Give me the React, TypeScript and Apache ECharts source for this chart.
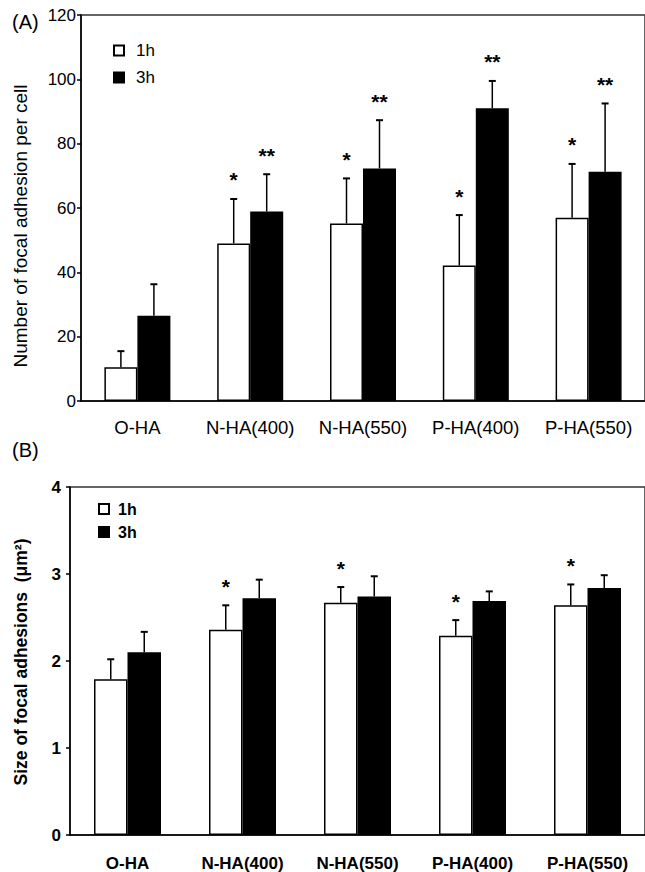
import React, { useEffect, useRef } from "react";
import * as echarts from "echarts";

const categories = ["O-HA", "N-HA(400)", "N-HA(550)", "P-HA(400)", "P-HA(550)"];

// (A) Number of focal adhesion per cell
const countMean1h = [10.5, 49.0, 55.2, 42.1, 57.0];
const countErr1h = [5.0, 13.8, 14.0, 15.7, 16.7];
const countStar1h = ["", "*", "*", "*", "*"];
const countMean3h = [26.5, 58.9, 72.3, 91.0, 71.3];
const countErr3h = [9.8, 11.6, 15.0, 8.5, 21.2];
const countStar3h = ["", "**", "**", "**", "**"];

// (B) Size of focal adhesions (µm²)
const sizeMean1h = [1.79, 2.36, 2.67, 2.29, 2.64];
const sizeErr1h = [0.23, 0.28, 0.18, 0.18, 0.24];
const sizeStar1h = ["", "*", "*", "*", "*"];
const sizeMean3h = [2.1, 2.72, 2.74, 2.69, 2.84];
const sizeErr3h = [0.235, 0.215, 0.234, 0.11, 0.146];
const sizeStar3h = ["", "", "", "", ""];

const countTicks = { min: 0, max: 120, interval: 20 };
const sizeTicks = { min: 0, max: 4, interval: 1 };

const FONT = "'Liberation Sans', Arial, Helvetica, sans-serif";

function errSeries(
  means: number[],
  errs: number[],
  stars: string[],
  side: number,
  barW: number,
  axisIdx: number
) {
  return {
    type: "custom",
    xAxisIndex: axisIdx,
    yAxisIndex: axisIdx,
    z: 5,
    silent: true,
    clip: false,
    data: means.map((m, i) => [i, m, errs[i]]),
    renderItem: (params: any, api: any) => {
      const i = api.value(0);
      const m = api.value(1);
      const e = api.value(2);
      const base = api.coord([i, m]);
      const top = api.coord([i, m + e]);
      const x = base[0] + (side * barW) / 2;
      const children: any[] = [
        {
          type: "line",
          shape: { x1: x, y1: base[1], x2: x, y2: top[1] },
          style: { stroke: "#000", lineWidth: 1.5 },
        },
        {
          type: "line",
          shape: { x1: x - 3.5, y1: top[1], x2: x + 3.5, y2: top[1] },
          style: { stroke: "#000", lineWidth: 2 },
        },
      ];
      const s = stars[params.dataIndex];
      if (s) {
        children.push({
          type: "text",
          x: x,
          y: top[1] - 19,
          style: {
            text: s,
            fill: "#000",
            fontSize: 21,
            fontWeight: "bold",
            fontFamily: FONT,
            align: "center",
            verticalAlign: "middle",
          },
        });
      }
      return { type: "group", children };
    },
  };
}

export default function App() {
  const ref = useRef<HTMLDivElement>(null);

  useEffect(() => {
    if (!ref.current) return;
    const chart = echarts.init(ref.current, undefined, { renderer: "svg" });
    const axisLineStyle = { color: "#000", width: 1.5 };
    const option: any = {
      animation: false,
      backgroundColor: "#fff",
      grid: [
        {
          left: 81,
          top: 15,
          right: -7,
          height: 386,
          show: true,
          borderColor: "#333",
          borderWidth: 1.5,
        },
        {
          left: 70,
          top: 487,
          right: -7,
          height: 348,
          show: true,
          borderColor: "#333",
          borderWidth: 1.5,
        },
      ],
      legend: [
        {
          orient: "vertical",
          left: 108,
          top: 37,
          itemWidth: 10,
          itemHeight: 10,
          itemGap: 10,
          icon: "rect",
          data: ["1h", "3h"],
          textStyle: {
            fontFamily: FONT,
            fontSize: 17,
            color: "#000",
            padding: [0, 0, 0, 7],
          },
        },
        {
          orient: "vertical",
          left: 93,
          top: 496,
          itemWidth: 10,
          itemHeight: 10,
          itemGap: 7,
          icon: "rect",
          data: ["1h", "3h"],
          textStyle: {
            fontFamily: FONT,
            fontSize: 16,
            fontWeight: "bold",
            color: "#000",
            padding: [0, 0, 0, 4],
          },
        },
      ],
      xAxis: [
        {
          type: "category",
          gridIndex: 0,
          data: categories,
          axisLine: { lineStyle: axisLineStyle },
          axisTick: { inside: true, length: 4, lineStyle: axisLineStyle },
          axisLabel: {
            interval: 0,
            margin: 17,
            fontSize: 18.5,
            fontFamily: FONT,
            color: "#000",
          },
        },
        {
          type: "category",
          gridIndex: 1,
          data: categories,
          axisLine: { lineStyle: axisLineStyle },
          axisTick: { inside: true, length: 4, lineStyle: axisLineStyle },
          axisLabel: {
            interval: 0,
            margin: 20,
            fontSize: 17,
            fontWeight: "bold",
            fontFamily: FONT,
            color: "#000",
          },
        },
      ],
      yAxis: [
        {
          type: "value",
          gridIndex: 0,
          ...countTicks,
          axisLine: { show: true, lineStyle: axisLineStyle },
          axisTick: { show: true, length: 4, lineStyle: axisLineStyle },
          splitLine: { show: false },
          axisLabel: {
            margin: 5,
            fontSize: 17,
            fontFamily: FONT,
            color: "#000",
          },
        },
        {
          type: "value",
          gridIndex: 1,
          ...sizeTicks,
          axisLine: { show: true, lineStyle: axisLineStyle },
          axisTick: { show: true, length: 4, lineStyle: axisLineStyle },
          splitLine: { show: false },
          axisLabel: {
            margin: 9,
            fontSize: 17,
            fontWeight: "bold",
            fontFamily: FONT,
            color: "#000",
          },
        },
      ],
      series: [
        {
          name: "1h",
          type: "bar",
          xAxisIndex: 0,
          yAxisIndex: 0,
          data: countMean1h,
          barWidth: 33,
          barGap: "0%",
          itemStyle: { color: "#fff", borderColor: "#000", borderWidth: 1.5 },
        },
        {
          name: "3h",
          type: "bar",
          xAxisIndex: 0,
          yAxisIndex: 0,
          data: countMean3h,
          barWidth: 33,
          barGap: "0%",
          itemStyle: { color: "#000", borderColor: "#000", borderWidth: 1.5 },
        },
        {
          name: "1h",
          type: "bar",
          xAxisIndex: 1,
          yAxisIndex: 1,
          data: sizeMean1h,
          barWidth: 33.5,
          barGap: "0%",
          itemStyle: { color: "#fff", borderColor: "#000", borderWidth: 1.5 },
        },
        {
          name: "3h",
          type: "bar",
          xAxisIndex: 1,
          yAxisIndex: 1,
          data: sizeMean3h,
          barWidth: 33.5,
          barGap: "0%",
          itemStyle: { color: "#000", borderColor: "#000", borderWidth: 1.5 },
        },
        errSeries(countMean1h, countErr1h, countStar1h, -1, 33, 0),
        errSeries(countMean3h, countErr3h, countStar3h, 1, 33, 0),
        errSeries(sizeMean1h, sizeErr1h, sizeStar1h, -1, 33.5, 1),
        errSeries(sizeMean3h, sizeErr3h, sizeStar3h, 1, 33.5, 1),
      ],
      graphic: [
        {
          type: "text",
          left: 12,
          top: 12,
          style: { text: "(A)", fontSize: 20, fontFamily: FONT, fill: "#000" },
        },
        {
          type: "text",
          left: 12,
          top: 440,
          style: { text: "(B)", fontSize: 20, fontFamily: FONT, fill: "#000" },
        },
        {
          type: "text",
          x: 20,
          y: 226,
          rotation: Math.PI / 2,
          style: {
            text: "Number of focal adhesion per cell",
            fontSize: 19,
            fontFamily: FONT,
            fill: "#000",
            align: "center",
            verticalAlign: "middle",
          },
        },
        {
          type: "text",
          x: 21,
          y: 662,
          rotation: Math.PI / 2,
          style: {
            text: "Size of focal adhesions  (\u03bcm\u00b2)",
            fontSize: 17.5,
            fontWeight: "bold",
            fontFamily: FONT,
            fill: "#000",
            align: "center",
            verticalAlign: "middle",
          },
        },
      ],
    };
    chart.setOption(option);
    return () => chart.dispose();
  }, []);

  return (
    <div
      ref={ref}
      style={{ position: "absolute", left: 0, top: 0, width: 645, height: 872 }}
    />
  );
}
